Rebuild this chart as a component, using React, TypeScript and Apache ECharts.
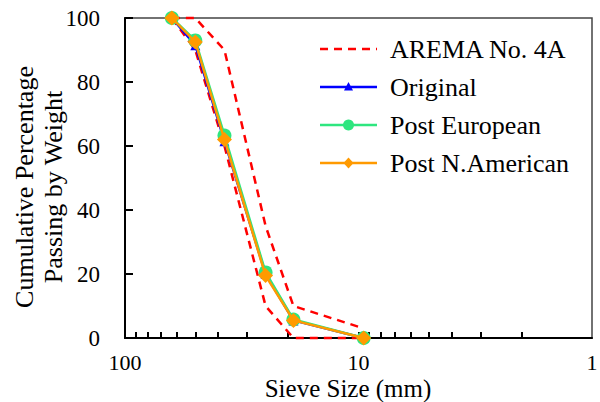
import React, { useEffect, useRef } from 'react';
import * as echarts from 'echarts';

const sieveSizes = [63, 50, 37.5, 25, 19, 9.5];
const aremaUpper = [100, 100, 90, 35, 10, 3];
const aremaLower = [100, 90, 60, 10, 0, 0];
const original = [100, 91.5, 61.5, 20, 5.5, 0];
const postEuropean = [100, 93, 63.3, 20.5, 5.8, 0];
const postNAmerican = [100, 92.5, 62, 19.5, 5.5, 0];
const xTickValues = [2, 3, 4, 5, 6, 7, 8, 9, 10, 20, 30, 40, 50, 60, 70, 80, 90];
const xLabelValues = [1, 10, 100];
const yLabelValues = [0, 20, 40, 60, 80, 100];
const legendNames = ['AREMA No. 4A', 'Original', 'Post European', 'Post N.American'];
const legendColors = ['#FF0000', '#0000FF', '#2EE67F', '#FF9A00'];
const legendSymbols = ['none', 'triangle', 'circle', 'diamond'];

const FONT = 'Liberation Serif, serif';

const pairs = (ys: number[]) => sieveSizes.map((x, i) => [x, ys[i]]);

export default function App() {
  const ref = useRef<HTMLDivElement>(null);
  useEffect(() => {
    if (!ref.current) return;
    const chart = echarts.init(ref.current, undefined, { renderer: 'svg' });
    const arema = {
      type: 'line',
      name: legendNames[0],
      symbol: 'none',
      clip: false,
      lineStyle: { color: legendColors[0], width: 2.5, type: [8, 6] },
      itemStyle: { color: legendColors[0] },
      z: 2,
    };
    chart.setOption({
      animation: false,
      backgroundColor: '#fff',
      grid: {
        left: 125, right: 8, top: 18, bottom: 64,
        show: true, borderColor: '#444', borderWidth: 1.5,
      },
      xAxis: {
        type: 'log',
        logBase: 10,
        min: 1,
        max: 100,
        inverse: true,
        axisLine: { show: true, lineStyle: { color: '#000', width: 2 } },
        axisTick: { show: true, inside: true, length: 6, customValues: xTickValues, lineStyle: { color: '#000', width: 2 } },
        minorTick: { show: false },
        axisLabel: { show: false },
        splitLine: { show: false },
      },
      yAxis: {
        type: 'value',
        min: 0,
        max: 100,
        interval: 20,
        axisLine: { show: true, lineStyle: { color: '#000', width: 2 } },
        axisTick: { show: true, inside: true, length: 8, lineStyle: { color: '#000', width: 2 } },
        axisLabel: { show: false },
        splitLine: { show: false },
      },
      series: [
        { ...arema, data: pairs(aremaUpper) },
        { ...arema, data: pairs(aremaLower) },
        {
          type: 'line', name: legendNames[1], data: pairs(original), clip: false,
          symbol: legendSymbols[1], symbolSize: 10,
          lineStyle: { color: legendColors[1], width: 2.5 }, itemStyle: { color: legendColors[1] }, z: 3,
        },
        {
          type: 'line', name: legendNames[2], data: pairs(postEuropean), clip: false,
          symbol: legendSymbols[2], symbolSize: 14,
          lineStyle: { color: legendColors[2], width: 2.5 }, itemStyle: { color: legendColors[2] }, z: 4,
        },
        {
          type: 'line', name: legendNames[3], data: pairs(postNAmerican), clip: false,
          symbol: legendSymbols[3], symbolSize: 15,
          lineStyle: { color: legendColors[3], width: 2.5 }, itemStyle: { color: legendColors[3] }, z: 5,
        },
      ],
    });

    const xp = (v: number) => chart.convertToPixel({ xAxisIndex: 0 }, v) as unknown as number;
    const yp = (v: number) => chart.convertToPixel({ yAxisIndex: 0 }, v) as unknown as number;
    const gridLeft = xp(100);
    const gridBottom = yp(0);

    const graphics: any[] = [];
    yLabelValues.forEach((v) => {
      graphics.push({
        type: 'text', x: gridLeft - 25, y: yp(v),
        style: { text: String(v), font: `23px ${FONT}`, fill: '#000', align: 'right', verticalAlign: 'middle' },
      });
    });
    xLabelValues.forEach((v) => {
      graphics.push({
        type: 'text', x: xp(v), y: gridBottom + 24,
        style: { text: String(v), font: `22px ${FONT}`, fill: '#000', align: 'center', verticalAlign: 'middle' },
      });
    });
    graphics.push({
      type: 'text', x: 39, y: 187, rotation: Math.PI / 2,
      style: { text: 'Cumulative Percentage\nPassing by Weight', font: `26px ${FONT}`, fill: '#000', align: 'center', verticalAlign: 'middle', lineHeight: 29 },
    });
    graphics.push({
      type: 'text', x: 348, y: 388,
      style: { text: 'Sieve Size (mm)', font: `25px ${FONT}`, fill: '#000', align: 'center', verticalAlign: 'middle' },
    });

    // legend
    const legX = 320, legW = 57, legTop = 49, legStep = 38, textGap = 13;
    legendNames.forEach((name, i) => {
      const cy = legTop + i * legStep;
      const cx = legX + legW / 2;
      const color = legendColors[i];
      graphics.push({
        type: 'line',
        shape: { x1: legX, y1: cy, x2: legX + legW, y2: cy },
        style: { stroke: color, lineWidth: 2.5, lineDash: i === 0 ? [8, 6] : null },
      });
      const sym = legendSymbols[i];
      if (sym === 'triangle') {
        graphics.push({ type: 'polygon', shape: { points: [[cx, cy - 5], [cx + 4.5, cy + 3.5], [cx - 4.5, cy + 3.5]] }, style: { fill: color } });
      } else if (sym === 'circle') {
        graphics.push({ type: 'circle', shape: { cx, cy, r: 5.5 }, style: { fill: color } });
      } else if (sym === 'diamond') {
        graphics.push({ type: 'polygon', shape: { points: [[cx, cy - 5.5], [cx + 5, cy], [cx, cy + 5.5], [cx - 5, cy]] }, style: { fill: color } });
      }
      graphics.push({
        type: 'text', x: legX + legW + textGap, y: cy,
        style: { text: name, font: `26px ${FONT}`, fill: '#000', align: 'left', verticalAlign: 'middle' },
      });
    });

    chart.setOption({ graphic: graphics });
    return () => chart.dispose();
  }, []);
  return <div ref={ref} style={{ width: 600, height: 402, position: 'absolute', left: 0, top: 0 }} />;
}
